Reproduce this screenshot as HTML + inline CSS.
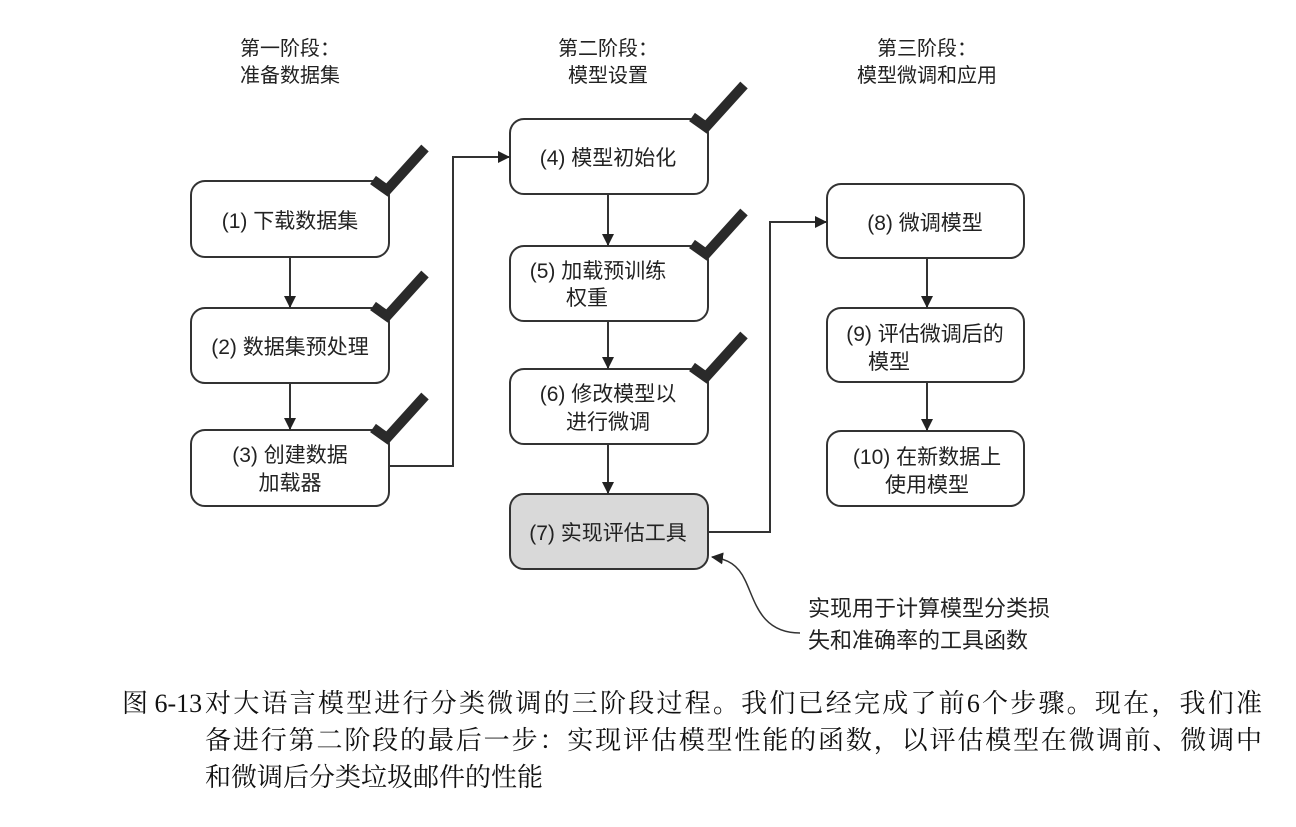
<!DOCTYPE html>
<html><head><meta charset="utf-8"><style>
html,body{margin:0;padding:0;background:#fff;}
svg text{font-family:"Liberation Sans","Noto Sans CJK SC",sans-serif;fill:#222;}
.cap{font-family:"Liberation Serif","Noto Serif CJK SC",serif !important;font-size:26px;fill:#111;}
</style></head><body>
<svg width="1296" height="822" viewBox="0 0 1296 822" xmlns="http://www.w3.org/2000/svg">
<defs>
<marker id="ah" markerWidth="12" markerHeight="12" refX="11" refY="6" orient="auto" markerUnits="userSpaceOnUse">
<path d="M0,0 L12,6 L0,12 z" fill="#222"/></marker>
<g id="chk"><path d="M-14,-10 L0,0 L38,-42" fill="none" stroke="#2a2a2a" stroke-width="10"/></g>
</defs>
<g font-size="20" text-anchor="middle">
<text x="290" y="55">第一阶段：</text><text x="290" y="82">准备数据集</text>
<text x="608" y="55">第二阶段：</text><text x="608" y="82">模型设置</text>
<text x="927" y="55">第三阶段：</text><text x="927" y="82">模型微调和应用</text>
</g>
<g fill="#fff" stroke="#333" stroke-width="2">
<rect x="191" y="181" width="198" height="76" rx="14"/>
<rect x="191" y="308" width="198" height="75" rx="14"/>
<rect x="191" y="430" width="198" height="76" rx="14"/>
<rect x="510" y="119" width="198" height="75" rx="14"/>
<rect x="510" y="246" width="198" height="75" rx="14"/>
<rect x="510" y="369" width="198" height="75" rx="14"/>
<rect x="510" y="494" width="198" height="75" rx="14" fill="#d9d9d9"/>
<rect x="827" y="184" width="197" height="74" rx="14"/>
<rect x="827" y="308" width="197" height="74" rx="14"/>
<rect x="827" y="431" width="197" height="75" rx="14"/>
</g>
<g font-size="21" text-anchor="middle">
<text x="290" y="228">(1) 下载数据集</text>
<text x="290" y="354">(2) 数据集预处理</text>
<text x="290" y="462">(3) 创建数据</text><text x="290" y="490">加载器</text>
<text x="608" y="165">(4) 模型初始化</text>
<text x="598" y="278">(5) 加载预训练</text><text x="566" y="305" text-anchor="start">权重</text>
<text x="608" y="401">(6) 修改模型以</text><text x="608" y="429">进行微调</text>
<text x="608" y="540">(7) 实现评估工具</text>
<text x="925" y="230">(8) 微调模型</text>
<text x="925" y="341">(9) 评估微调后的</text><text x="868" y="369" text-anchor="start">模型</text>
<text x="927" y="464">(10) 在新数据上</text><text x="927" y="492">使用模型</text>
</g>
<g stroke="#333" stroke-width="2" fill="none" marker-end="url(#ah)">
<line x1="290" y1="257" x2="290" y2="307"/>
<line x1="290" y1="383" x2="290" y2="429"/>
<line x1="608" y1="194" x2="608" y2="245"/>
<line x1="608" y1="321" x2="608" y2="368"/>
<line x1="608" y1="444" x2="608" y2="493"/>
<line x1="927" y1="258" x2="927" y2="307"/>
<line x1="927" y1="382" x2="927" y2="430"/>
<polyline points="389,466 453,466 453,157 509,157"/>
<polyline points="708,532 770,532 770,222 826,222"/>
<path d="M800,633 C760,633 755,600 745,580 C738,565 728,559 712,557" stroke-width="1.5"/>
</g>
<use href="#chk" x="387" y="190"/>
<use href="#chk" x="387" y="316"/>
<use href="#chk" x="387" y="438"/>
<use href="#chk" x="706" y="127"/>
<use href="#chk" x="706" y="254"/>
<use href="#chk" x="706" y="377"/>
<g font-size="22">
<text x="808" y="616">实现用于计算模型分类损</text>
<text x="808" y="648">失和准确率的工具函数</text>
</g>
<text class="cap" x="122" y="712">图 6-13</text>
<text class="cap" x="205" y="712" textLength="1057" lengthAdjust="spacing">对大语言模型进行分类微调的三阶段过程。我们已经完成了前6个步骤。现在，我们准</text>
<text class="cap" x="205" y="749" textLength="1057" lengthAdjust="spacing">备进行第二阶段的最后一步：实现评估模型性能的函数，以评估模型在微调前、微调中</text>
<text class="cap" x="205" y="786">和微调后分类垃圾邮件的性能</text>
</svg>
</body></html>
